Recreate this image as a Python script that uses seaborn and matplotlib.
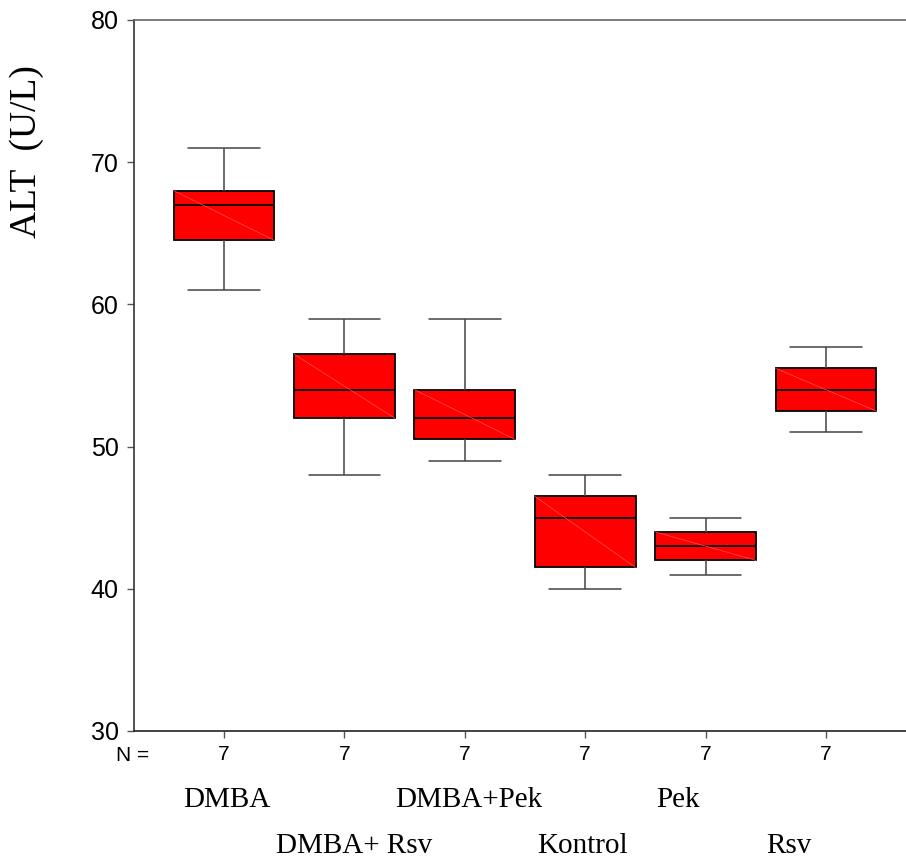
import pandas as pd
import seaborn as sns
import matplotlib.pyplot as plt
from matplotlib.transforms import blended_transform_factory

# ALT values, 7 animals per group
groups = ['DMBA', 'DMBA+ Rsv', 'DMBA+Pek', 'Kontrol', 'Pek', 'Rsv']
dmba = [61, 64, 65, 67, 68, 68, 71]
dmba_rsv = [48, 51, 53, 54, 56, 57, 59]
dmba_pek = [49, 50, 51, 52, 53, 55, 59]
kontrol = [40, 41, 42, 45, 46, 47, 48]
pek = [41, 42, 42, 43, 44, 44, 45]
rsv = [51, 52, 53, 54, 55, 56, 57]
n_labels = ['7', '7', '7', '7', '7', '7']
y_ticks = [30, 40, 50, 60, 70, 80]

# where SPSS put the group names under the axis (category units)
name_pos = [0.02, 1.08, 2.03, 2.98, 3.77, 4.69]
name_row = [0, 1, 0, 1, 0, 1]

values = [dmba, dmba_rsv, dmba_pek, kontrol, pek, rsv]
df = pd.DataFrame({'group': [g for g, v in zip(groups, values) for _ in v],
                   'ALT': [x for v in values for x in v]})

sns.set_style("white")
plt.rcParams['font.family'] = ['Liberation Sans', 'DejaVu Sans']
plt.rcParams['text.color'] = 'black'
plt.rcParams['xtick.labelcolor'] = 'black'
plt.rcParams['ytick.labelcolor'] = 'black'

fig = plt.figure(figsize=(9.06, 8.61), dpi=100)
ax = fig.add_axes([134 / 906, 130 / 861, 772 / 906, 711 / 861])

box_w = 0.836
sns.boxplot(data=df, x='group', y='ALT', order=groups, color='#ff0000',
            saturation=1, width=box_w, linecolor='black', linewidth=1.3,
            whis=1.5, ax=ax,
            whiskerprops={'color': '#444444', 'linewidth': 1.1},
            capprops={'color': '#444444', 'linewidth': 1.1})

# SPSS caps are wider than seaborn's default
for ln in ax.lines:
    xs, ys = ln.get_xdata(), ln.get_ydata()
    if len(xs) == 2 and ys[0] == ys[1]:
        span = abs(xs[1] - xs[0])
        if span < box_w * 0.9:
            c = (xs[0] + xs[1]) / 2
            ln.set_xdata([c - 0.297, c + 0.297])

# faint diagonal rendering artefact across each box
for p in ax.patches:
    ext = p.get_path().get_extents()
    ax.plot([ext.x0, ext.x1], [ext.y1, ext.y0], color='#ff5050',
            lw=0.5, zorder=p.get_zorder() + 0.1)

ax.set_xlim(-0.748, 5.665)
ax.set_ylim(30, 80)
ax.set_yticks(y_ticks)
ax.set_yticklabels([str(t) for t in y_ticks], fontsize=18)
ax.set_xticks(range(len(groups)))
ax.set_xticklabels(n_labels, fontsize=15)
ax.set_xlabel('')
ax.set_ylabel('')
ax.tick_params(axis='y', direction='out', length=5, width=1, color='#555555',
               pad=6, left=True, labelcolor='black')
ax.tick_params(axis='x', direction='out', length=5, width=1, color='#555555',
               pad=5, bottom=True, labelcolor='black')

ax.spines['right'].set_visible(False)
ax.spines['left'].set_color('#333333')
ax.spines['top'].set_color('#666666')
ax.spines['bottom'].set_color('#222222')
for s in ['left', 'top', 'bottom']:
    ax.spines[s].set_linewidth(1.2)

trans = blended_transform_factory(ax.transData, ax.transAxes)
ax.text(-0.764, -0.0422, 'N =', transform=trans, ha='center',
        va='baseline', fontsize=15, color='black')
row_y = [-0.1065, -0.1716]
for name, xp, r in zip(groups, name_pos, name_row):
    ax.text(xp, row_y[r], name, transform=trans, ha='center', va='baseline',
            fontsize=21, color='black',
            family=['Liberation Serif', 'DejaVu Serif'])

fig.text(27 / 906, 1 - 152 / 861, 'ALT  (U/L)', rotation=90, ha='center',
         va='center', fontsize=27, color='black',
         family=['Liberation Serif', 'DejaVu Serif'])

fig.savefig('out.png', dpi=100)
